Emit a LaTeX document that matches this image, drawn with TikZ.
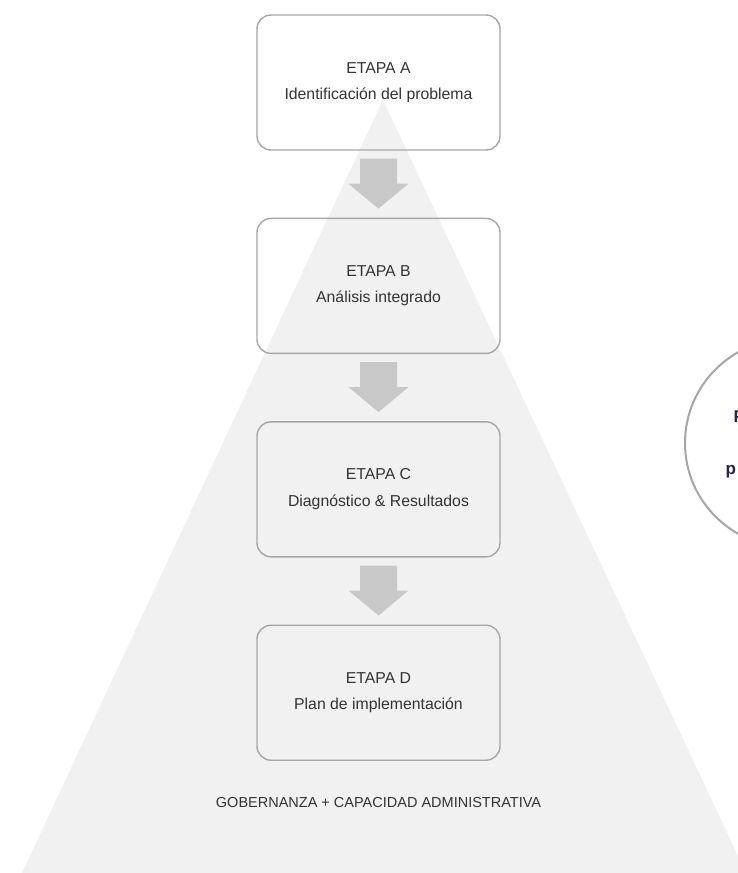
\documentclass[tikz,border=0pt]{standalone}
\usepackage{fontspec}
\setmainfont{Liberation Sans}
\usetikzlibrary{positioning,calc}
\definecolor{fondo}{HTML}{F1F1F1}
\definecolor{borde}{HTML}{A6A6A6}
\definecolor{flechagris}{HTML}{C8C8C8}
\definecolor{texto}{HTML}{333333}
\definecolor{morado}{HTML}{2E2448}
\begin{document}
\begin{tikzpicture}[
    x=1pt,y=-1pt,
    etapa/.style={draw=borde,line width=1.4pt,rounded corners=14pt,
        minimum width=243pt,minimum height=135pt,align=center,text=texto,
        font=\fontsize{15.8}{26.5}\selectfont},
    flecha/.style={fill=flechagris},
    lema/.style={text=texto,font=\fontsize{14.5}{17}\selectfont},
    meta/.style={circle,draw=borde,line width=2pt,fill=white,minimum size=208pt},
    metatexto/.style={text=morado,anchor=west,font=\fontsize{17}{20}\selectfont\bfseries},
]
    \useasboundingbox (0,0) rectangle (738,873);
    \clip (0,0) rectangle (738,873);
    \fill[fondo] (383,100) -- (746,873) -- (22,873) -- cycle;
    \node[etapa] (a) at (378.5,82.5) {ETAPA A\\Identificación del problema};
    \node[etapa,below=67pt of a] (b) {ETAPA B\\Análisis integrado};
    \node[etapa,below=67pt of b] (c) {ETAPA C\\Diagnóstico \& Resultados};
    \node[etapa,below=67pt of c] (d) {ETAPA D\\Plan de implementación};
    \foreach \s/\t in {a/b,b/c,c/d}
        \fill[flecha] ($(\s.south)+(-18.5,8)$) -- ++(37,0) -- ++(0,25) -- ++(11.5,0)
            -- ($(\t.north)+(0,-9)$) -- ($(\s.south)+(-30,33)$) -- ++(11.5,0) -- cycle;
    \node[lema] (gob) at ($(d.south)+(0,42)$) {GOBERNANZA + CAPACIDAD ADMINISTRATIVA};
    \node[meta] (m) at (789,443) {};
    \node[metatexto] (m1) at (730,417) {P};
    \node[metatexto] (m2) at (722,472) {p};
\end{tikzpicture}
\end{document}
